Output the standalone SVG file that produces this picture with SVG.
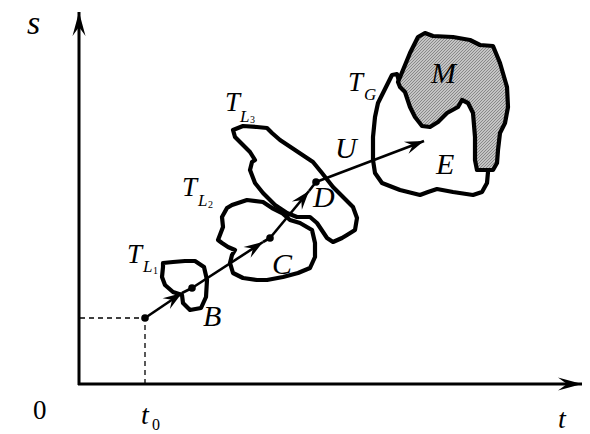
<svg xmlns="http://www.w3.org/2000/svg" width="590" height="434" viewBox="0 0 590 434">
<style>
.blob{fill:none;stroke:#000;stroke-width:4.2;stroke-linejoin:round;stroke-linecap:round}
.ax{fill:none;stroke:#000;stroke-width:3}
.ln{fill:none;stroke:#000;stroke-width:2.6}
.dash{fill:none;stroke:#000;stroke-width:1.3;stroke-dasharray:5 4}
.t{font-family:"Liberation Serif","Times New Roman",serif;font-style:italic;fill:#000}
.n{font-family:"Liberation Serif","Times New Roman",serif;fill:#000}
</style>
<defs>
<marker id="ah" viewBox="-22 -8 24 16" markerWidth="24" markerHeight="16" refX="0" refY="0" orient="auto" markerUnits="userSpaceOnUse">
<path d="M0,0 L-19,-6.5 L-12,0 L-19,6.5 Z" fill="#000"/>
</marker>
<marker id="axh" viewBox="-26 -9 28 18" markerWidth="28" markerHeight="18" refX="0" refY="0" orient="auto" markerUnits="userSpaceOnUse">
<path d="M0,0 L-24,-6.5 L-15,0 L-24,6.5 Z" fill="#000"/>
</marker>
<pattern id="hatch" width="3" height="3" patternUnits="userSpaceOnUse">
<rect width="3" height="3" fill="#c4c4c4"/>
<path d="M0,3 L3,0" stroke="#7a7a7a" stroke-width="0.8"/>
</pattern>
</defs>

<g id="axes">
<line class="ax" x1="79" y1="385" x2="79" y2="12" marker-end="url(#axh)"/>
<line class="ax" x1="78" y1="384" x2="582" y2="384" marker-end="url(#axh)"/>
<path class="dash" d="M80,318 L145,318 L145,383"/>
<text class="t" x="27" y="34" font-size="34">s</text>
<text class="n" x="33" y="419" font-size="27">0</text>
<text class="t" x="141" y="424" font-size="28">t</text>
<text class="n" x="152" y="430" font-size="16">0</text>
<text class="t" x="558" y="428" font-size="28">t</text>
</g>

<g id="TL1">
<path class="blob" d="M163,267 L163,263 L173,262 L185,261 L195,261 L204,267 L207,280 L206,297 L201,308 L190,310 L183,303 L182,295 L173,292 L165,285 L162,277 Z"/>
<text class="t" x="127" y="263" font-size="27">T</text>
<text class="t" x="143" y="272" font-size="17">L</text>
<text class="n" x="153" y="274" font-size="10">1</text>
</g>

<g id="TL2">
<path class="blob" d="M227,208 L232,205 L247,200 L263,202 L272,208 L282,213 L290,220 L300,223 L312,230 L315,243 L315,257 L310,268 L298,273 L283,277 L267,280 L257,280 L243,278 L233,273 L230,263 L232,255 L235,250 L228,247 L222,243 L218,240 L223,227 L222,217 Z"/>
<text class="t" x="182" y="196" font-size="27">T</text>
<text class="t" x="198" y="206" font-size="17">L</text>
<text class="n" x="208" y="208" font-size="10">2</text>
</g>

<g id="TL3">
<path class="blob" d="M235,137 L233,130 L243,126 L257,127 L267,128 L272,133 L280,140 L295,150 L313,162 L322,173 L333,187 L343,197 L353,207 L357,218 L355,230 L347,235 L342,238 L333,242 L327,238 L317,223 L310,217 L297,217 L287,213 L275,205 L263,193 L255,183 L250,170 L252,162 L255,160 L250,152 L243,145 Z"/>
<text class="t" x="225" y="111" font-size="27">T</text>
<text class="t" x="240" y="122" font-size="17">L</text>
<text class="n" x="250" y="123" font-size="10">3</text>
</g>

<g id="TG">
<path class="blob" d="M400,85 L397,74 L392,75 L388,83 L383,93 L378,103 L375,117 L373,137 L373,160 L375,173 L382,183 L400,190 L420,195 L428,192 L437,189 L453,192 L473,195 L482,192 L487,183 L488,172"/>
<path class="blob" style="fill:url(#hatch)" d="M398,82 L403,70 L410,53 L418,37 L425,33 L433,36 L453,37 L470,40 L480,45 L493,46 L500,63 L507,87 L508,107 L505,123 L500,133 L498,150 L497,163 L493,170 L477,170 L475,160 L475,137 L473,113 L468,103 L462,100 L458,107 L447,113 L438,122 L430,127 L422,126 L415,117 L410,107 L407,98 L405,92 L400,87 Z"/>
<text class="t" x="348" y="91" font-size="27">T</text>
<text class="t" x="364" y="100" font-size="17">G</text>
<text class="t" x="431" y="83" font-size="30">M</text>
<text class="t" x="436" y="174" font-size="30">E</text>
</g>

<g id="connectors">
<path class="ln" d="M145,318 L182,293" marker-end="url(#ah)"/>
<path class="ln" d="M182,293 L192,288"/>
<path class="ln" d="M192,288 L263,242" marker-end="url(#ah)"/>
<path class="ln" d="M263,242 L270,238"/>
<path class="ln" d="M270,238 L309,191" marker-end="url(#ah)"/>
<path class="ln" d="M309,191 L316,182"/>
<path class="ln" d="M316,182 L424,141" marker-end="url(#ah)"/>
<circle cx="145" cy="318" r="3.8"/>
<circle cx="192" cy="288" r="3.8"/>
<circle cx="270" cy="238" r="3.8"/>
<circle cx="316" cy="182" r="3.8"/>
</g>

<g id="labels">
<text class="t" x="203" y="326" font-size="30">B</text>
<text class="t" x="272" y="274" font-size="30">C</text>
<text class="t" x="313" y="207" font-size="30">D</text>
<text class="t" x="335" y="158" font-size="30">U</text>
</g>
</svg>
